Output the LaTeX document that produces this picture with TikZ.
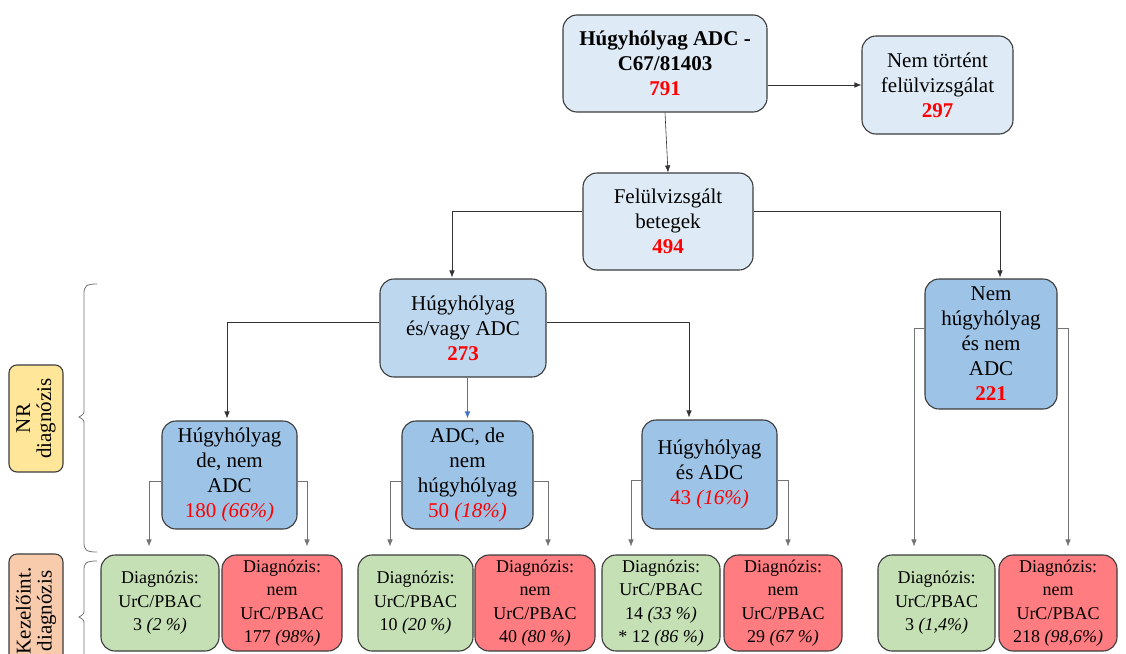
\documentclass[tikz,border=0pt]{standalone}
\usepackage{fontspec}
\setmainfont{Liberation Serif}
\usetikzlibrary{arrows.meta}
\definecolor{bxA}{HTML}{DEEBF7}
\definecolor{bxB}{HTML}{BDD7EE}
\definecolor{bxC}{HTML}{9DC3E6}
\definecolor{bxG}{HTML}{C5E0B4}
\definecolor{bxR}{HTML}{FF7C80}
\definecolor{bxY}{HTML}{FFE699}
\definecolor{bxP}{HTML}{F8CBAD}
\definecolor{edgec}{HTML}{3C3C3C}
\definecolor{numred}{HTML}{FF0000}
\definecolor{arrblue}{HTML}{4472C4}
\newcommand{\rn}[1]{{\color{numred}\bfseries #1}}
\begin{document}
\begin{tikzpicture}[x=1pt,y=-1pt,
  box/.style={draw=edgec, line width=1.1pt, rounded corners=14pt, align=center, inner sep=1pt,
              font=\fontsize{21}{25}\selectfont},
  sbox/.style={box, font=\fontsize{18}{23.5}\selectfont, minimum height=96pt},
  lbl/.style={draw=edgec, line width=1.1pt, rounded corners=8pt, align=center, inner sep=0pt,
              rotate=90, minimum height=54pt, font=\fontsize{21}{21}\selectfont},
  arr/.style={draw=black!80, line width=0.6pt, -{Latex[length=7pt,width=5.5pt]}},
  garr/.style={arr, draw=black!55, shorten >=8pt},
  brc/.style={draw=black!55, line width=0.8pt}
]
\useasboundingbox (0,0) rectangle (1126,653);
\clip (0,0) rectangle (1126,653);

% level 0-1
\node[box, fill=bxA, minimum width=204pt, minimum height=97pt] (top) at (665,63.5)
  {\bfseries Húgyhólyag ADC -\\\bfseries C67/81403\\\rn{791}};
\node[box, fill=bxA, minimum width=151pt, minimum height=98pt] (nt) at (937.5,85)
  {Nem történt\\felülvizsgálat\\\rn{297}};
\node[box, fill=bxA, minimum width=170pt, minimum height=97pt] (fel) at (668,221.5)
  {Felülvizsgált\\betegek\\\rn{494}};

% level 2
\node[box, fill=bxB, minimum width=166pt, minimum height=98pt] (esv) at (463,328)
  {Húgyhólyag\\és/vagy ADC\\\rn{273}};
\node[box, fill=bxC, minimum width=132pt, minimum height=130pt] (nh) at (991,344)
  {Nem\\húgyhólyag\\és nem\\ADC\\\rn{221}};

% level 3
\node[box, fill=bxC, minimum width=135pt, minimum height=108pt] (l1) at (229.5,475)
  {Húgyhólyag\\de, nem\\ADC\\{\color{numred}180 \textit{(66\%)}}};
\node[box, fill=bxC, minimum width=131pt, minimum height=108pt] (l2) at (467.5,475)
  {ADC, de\\nem\\húgyhólyag\\{\color{numred}50 \textit{(18\%)}}};
\node[box, fill=bxC, minimum width=135pt, minimum height=109pt] (l3) at (709.5,474.5)
  {Húgyhólyag\\és ADC\\{\color{numred}43 \textit{(16\%)}}};

% bottom level
\node[sbox, fill=bxG, minimum width=118pt] (g1) at (160,603)
  {Diagnózis:\\UrC/PBAC\\3 \textit{(2 \%)}};
\node[sbox, fill=bxR, minimum width=120pt] (r1) at (282,603)
  {Diagnózis:\\nem\\UrC/PBAC\\177 \textit{(98\%)}};
\node[sbox, fill=bxG, minimum width=115pt] (g2) at (415.5,603)
  {Diagnózis:\\UrC/PBAC\\10 \textit{(20 \%)}};
\node[sbox, fill=bxR, minimum width=120pt] (r2) at (535,603)
  {Diagnózis:\\nem\\UrC/PBAC\\40 \textit{(80 \%)}};
\node[sbox, fill=bxG, minimum width=118pt] (g3) at (661,603)
  {Diagnózis:\\UrC/PBAC\\14 \textit{(33 \%)}\\* 12 \textit{(86 \%)}};
\node[sbox, fill=bxR, minimum width=118pt] (r3) at (783,603)
  {Diagnózis:\\nem\\UrC/PBAC\\29 \textit{(67 \%)}};
\node[sbox, fill=bxG, minimum width=117pt] (g4) at (936.5,603)
  {Diagnózis:\\UrC/PBAC\\3 \textit{(1,4\%)}};
\node[sbox, fill=bxR, minimum width=118pt] (r4) at (1058,603)
  {Diagnózis:\\nem\\UrC/PBAC\\218 \textit{(98,6\%)}};

% side labels
\node[lbl, fill=bxY, minimum width=107pt] (nr) at (36,418.5) {NR\\diagnózis};
\node[lbl, fill=bxP, minimum width=114pt] (ke) at (36,611) {Kezelőint.\\diagnózis};

% braces
\draw[brc] (97,284) .. controls (86,284) and (84,286) .. (84,294) -- (84,409)
  .. controls (84,414) .. (79,417) .. controls (84,420) .. (84,425) -- (84,542)
  .. controls (84,550) and (86,552) .. (97,552);
\draw[brc] (97,561) .. controls (86,561) and (84,563) .. (84,570) -- (84,609)
  .. controls (84,614) .. (79,617) .. controls (84,620) .. (84,625) -- (84,664)
  .. controls (84,671) and (86,673) .. (97,673);

% connectors
\draw[arr] (top.south) -- (fel.north);
\draw[arr] (top.east |- nt.west) -- (nt.west);
\draw[arr, shorten >=1pt] ([yshift=10.5pt]fel.west) -| ([xshift=-11pt]esv.north);
\draw[arr, shorten >=1pt] ([yshift=10.5pt]fel.east) -| ([xshift=9pt]nh.north);
\draw[arr, shorten >=2pt] ([yshift=6pt]esv.west) -| ([xshift=-2.5pt]l1.north);
\draw[arr, shorten >=2pt] ([yshift=6pt]esv.east) -| ([xshift=-20.5pt]l3.north);
\draw[arr, draw=arrblue, shorten >=2pt] (esv.south -| l2.north) -- (l2.north);

\draw[garr] ([yshift=-6pt]l1.west) -| ([xshift=-11pt]g1.north);
\draw[garr] ([yshift=-6pt]l1.east) -| ([xshift=25pt]r1.north);
\draw[garr] ([yshift=-6pt]l2.west) -| ([xshift=-25.5pt]g2.north);
\draw[garr] ([yshift=-6pt]l2.east) -| ([xshift=13pt]r2.north);
\draw[garr] ([yshift=-6pt]l3.west) -| ([xshift=-30pt]g3.north);
\draw[garr] ([yshift=-6pt]l3.east) -| ([xshift=5pt]r3.north);
\draw[garr] ([yshift=16pt]nh.west) -| ([xshift=-22.5pt]g4.north);
\draw[garr] ([yshift=16pt]nh.east) -| ([xshift=10pt]r4.north);
\end{tikzpicture}
\end{document}
